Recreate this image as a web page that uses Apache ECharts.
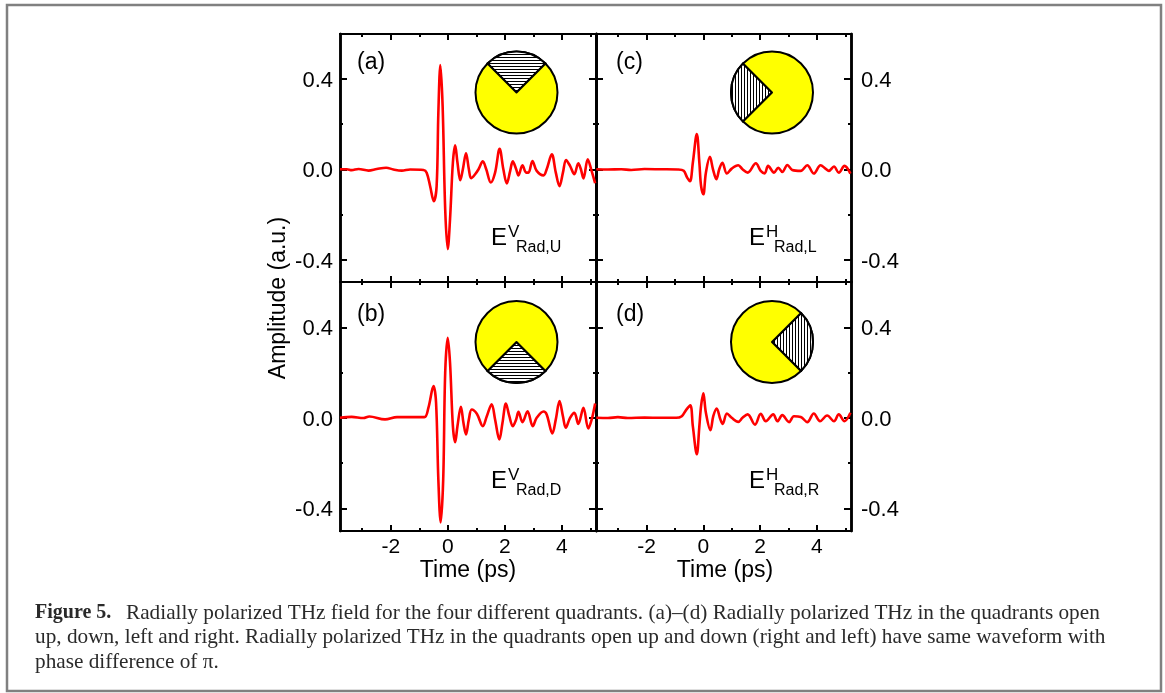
<!DOCTYPE html>
<html>
<head>
<meta charset="utf-8">
<style>html,body{margin:0;padding:0;background:#fff}#chart{width:1165px;height:693px}</style>
<script src="https://cdn.jsdelivr.net/npm/echarts@6/dist/echarts.min.js"></script>
</head>
<body>
<div id="chart"></div>
<script>
var chart = echarts.init(document.getElementById('chart'));

// tick values
var xMajor = [-2, 0, 2, 4];
var xMinor = [-3, -1, 1, 3, 5];
var yMajor = [-0.4, 0, 0.4];
var yMinor = [-0.2, 0.2];

// panel (a)
var timeA = [-3.78,-3.54,-3.37,-3.13,-2.78,-2.49,-2.16,-1.91,-1.61,-1.32,-0.85,-0.74,-0.62,-0.49,-0.39,-0.33,-0.26,-0.18,-0.09,0,0.08,0.18,0.26,0.34,0.44,0.53,0.64,0.74,0.82,0.96,1.08,1.23,1.35,1.51,1.66,1.82,1.95,2.07,2.19,2.28,2.40,2.48,2.62,2.75,2.83,2.97,3.12,3.36,3.47,3.65,3.79,3.92,4.04,4.15,4.29,4.44,4.58,4.67,4.76,4.91,5.03,5.17];
var ampA = [0,0,-0.004,0.001,-0.006,0.001,0.007,-0.001,-0.006,-0.001,-0.003,-0.015,-0.074,-0.142,-0.074,0.25,0.462,0.28,-0.177,-0.354,-0.221,0.03,0.106,0.03,-0.049,0,0.071,0,-0.04,-0.022,0,0.035,0,-0.059,-0.015,0.091,0,-0.063,-0.007,0.035,0,-0.027,0.018,-0.015,-0.015,0.037,-0.007,-0.027,0,0.066,-0.015,-0.075,-0.015,0.041,0.015,-0.022,0.027,0,-0.041,0.044,0,-0.062];

// panel (b)
var timeB = [-3.78,-3.37,-2.96,-2.75,-2.20,-1.78,-1.32,-0.82,-0.68,-0.50,-0.41,-0.33,-0.25,-0.16,-0.09,0,0.08,0.18,0.26,0.34,0.46,0.55,0.64,0.74,0.84,1.02,1.23,1.37,1.54,1.66,1.81,1.92,2.04,2.16,2.28,2.40,2.48,2.62,2.80,2.98,3.12,3.36,3.47,3.67,3.79,3.92,4.04,4.14,4.29,4.44,4.58,4.76,4.93,5.05,5.17];
var ampB = [0,0.004,-0.001,0.006,-0.007,0.003,0.003,0.003,0.044,0.14,0.066,-0.273,-0.462,-0.273,0.199,0.354,0.243,-0.037,-0.108,-0.037,0.049,-0.022,-0.074,-0.007,0.037,0.018,-0.037,0.007,0.06,-0.007,-0.096,-0.022,0.063,0.007,-0.037,-0.007,0.027,-0.019,0.029,-0.037,0,0.028,0.015,-0.069,-0.007,0.074,0.007,-0.044,0,0.022,-0.027,0.044,-0.047,-0.007,0.063];

// panel (c)
var timeC = [-3.77,-3.36,-2.89,-2.54,-2.07,-1.49,-0.90,-0.69,-0.57,-0.47,-0.37,-0.23,-0.14,-0.08,0,0.09,0.23,0.34,0.46,0.56,0.67,0.83,1.0,1.23,1.38,1.56,1.85,2.02,2.16,2.28,2.49,2.64,2.78,2.96,3.13,3.43,3.66,3.89,4.13,4.30,4.42,4.60,4.77,4.97,5.18];
var ampC = [0,-0.001,0,-0.003,0.001,0,-0.001,-0.007,-0.037,-0.053,0.029,0.156,0.029,-0.074,-0.111,-0.015,0.055,0,-0.044,0,0.029,-0.019,0.003,0.018,0,-0.015,0.027,-0.007,-0.018,0.015,-0.015,0.007,-0.012,0.019,-0.003,-0.007,0.018,-0.019,0.018,0.003,-0.007,0.012,-0.015,0.015,-0.019];

// panel (d)
var timeD = [-3.77,-3.36,-3.01,-2.66,-2.07,-1.49,-0.96,-0.76,-0.61,-0.46,-0.37,-0.23,-0.14,-0.08,0,0.09,0.25,0.35,0.47,0.60,0.68,0.83,1.0,1.23,1.38,1.56,1.82,2.02,2.20,2.46,2.61,2.78,3.02,3.19,3.43,3.66,3.89,4.11,4.36,4.60,4.77,4.97,5.18];
var ampD = [0,-0.001,0.003,-0.001,0.001,0,0,0.007,0.034,0.055,-0.037,-0.161,-0.037,0.052,0.108,0.022,-0.055,0.007,0.041,-0.007,-0.027,0.019,0,-0.018,0,0.015,-0.03,0.018,-0.015,0.015,-0.015,0.012,-0.019,0.007,0.004,-0.019,0.019,-0.015,0.01,-0.015,0.015,-0.015,0.022];

// inset pies, hatched wedge and yellow rest
var wedgeShare = [90, 270];

var panels = [
    {time: timeA, amp: ampA, left: 340, top: 34,  side: 'left',  bottom: false, tag: '(a)', e: 'V', sub: 'Rad,U', start: 135, hatchV: false},
    {time: timeB, amp: ampB, left: 340, top: 282, side: 'left',  bottom: true,  tag: '(b)', e: 'V', sub: 'Rad,D', start: 315, hatchV: false},
    {time: timeC, amp: ampC, left: 596, top: 34,  side: 'right', bottom: false, tag: '(c)', e: 'H', sub: 'Rad,L', start: 225, hatchV: true},
    {time: timeD, amp: ampD, left: 596, top: 282, side: 'right', bottom: true,  tag: '(d)', e: 'H', sub: 'Rad,R', start: 45,  hatchV: true}
];

var grids = [], xAxes = [], yAxes = [], series = [], texts = [];
var sansFont = '"Liberation Sans", Arial, sans-serif';
var serifFont = '"Liberation Serif", "Times New Roman", serif';

function zip(a, b) {
    return a.map(function (v, i) { return [v, b[i]]; });
}

panels.forEach(function (p, i) {
    grids.push({left: p.left, top: p.top, width: p.left === 340 ? 256 : 255, height: i % 2 === 0 ? 248 : 249});

    // bottom and top x axes, then the same for minor ticks
    [['bottom', xMajor, 6, p.bottom], ['top', xMajor, 6, false], ['bottom', xMinor, 3, false], ['top', xMinor, 3, false]].forEach(function (c, k) {
        xAxes.push({
            type: 'value', gridIndex: i, position: c[0], min: -3.78, max: 5.2,
            name: (k === 0 && p.bottom) ? 'Time (ps)' : '',
            nameLocation: 'middle', nameGap: 25,
            nameTextStyle: {fontFamily: sansFont, fontSize: 23, color: '#000', padding: p.side === 'left' ? 0 : [0, 0, 0, 3]},
            splitLine: {show: false},
            axisLine: {show: true, onZero: false, lineStyle: {color: '#000', width: 2}},
            axisTick: {show: true, inside: true, length: c[2], lineStyle: {color: '#000', width: 2}, customValues: c[1]},
            axisLabel: {show: c[3], fontFamily: sansFont, fontSize: 21, color: '#000', margin: 6, customValues: c[1], showMinLabel: true, showMaxLabel: true, formatter: function (v) { return String(v); }}
        });
    });

    // left and right y axes, the labelled one on the outside of the figure
    // lineHeight with top align drops the labels 2px onto their ticks
    [['left', yMajor, 7], ['right', yMajor, 7], ['left', yMinor, 3], ['right', yMinor, 3]].forEach(function (c, k) {
        yAxes.push({
            type: 'value', gridIndex: i, position: c[0], min: -0.5, max: 0.6,
            splitLine: {show: false},
            axisLine: {show: true, onZero: false, lineStyle: {color: '#000', width: 2.5}},
            axisTick: {show: true, inside: true, length: c[2], lineStyle: {color: '#000', width: 2}, customValues: c[1]},
            axisLabel: {show: k < 2 && c[0] === p.side, fontFamily: sansFont, fontSize: 22, color: '#000', margin: p.side === 'left' ? 7 : 10, verticalAlign: 'top', lineHeight: 4, customValues: c[1], formatter: function (v) { return v.toFixed(1); }}
        });
    });

    series.push({
        type: 'line', xAxisIndex: i * 4, yAxisIndex: i * 4,
        data: zip(p.time, p.amp),
        showSymbol: false, smooth: 0.35,
        lineStyle: {color: '#ff0000', width: 2.6}, z: 3, silent: true
    });

    var cx = p.left === 340 ? 516.5 : 772;
    var cy = p.top === 34 ? 92.5 : 342;
    series.push({
        type: 'pie', center: [cx, cy], radius: [0, 41], startAngle: p.start, clockwise: true,
        label: {show: false}, labelLine: {show: false}, silent: true, animation: false, z: 4,
        data: [
            {value: wedgeShare[0], itemStyle: {color: '#fff', borderColor: '#000', borderWidth: 2, decal: {
                symbol: 'rect', color: '#000', backgroundColor: '#fff',
                dashArrayX: p.hatchV ? [1, 2] : [1, 0],
                dashArrayY: p.hatchV ? [1, 0] : [1, 2],
                rotation: 0
            }}},
            {value: wedgeShare[1], itemStyle: {color: '#ffff00', borderColor: '#000', borderWidth: 2}}
        ]
    });

    // panel tag and field label
    var lx = p.left === 340 ? 357 : 616;
    var ex = p.left === 340 ? 491 : 749;
    var ey = p.top === 34 ? 250 : 493;
    var tagY = p.top === 34 ? 63 : 315;
    texts.push({type: 'text', x: lx, y: tagY, style: {text: p.tag, font: '23px ' + sansFont, fill: '#000', verticalAlign: 'middle'}});
    texts.push({type: 'text', x: ex, y: ey, style: {text: 'E', font: '24px ' + sansFont, fill: '#000', verticalAlign: 'bottom'}});
    texts.push({type: 'text', x: ex + 17, y: ey - 9, style: {text: p.e, font: '17px ' + sansFont, fill: '#000', verticalAlign: 'bottom'}});
    texts.push({type: 'text', x: ex + 25, y: ey + 6, style: {text: p.sub, font: '16px ' + sansFont, fill: '#000', verticalAlign: 'bottom'}});
});

// outer frame
texts.unshift({type: 'rect', shape: {x: 7, y: 5, width: 1154, height: 686}, style: {fill: 'none', stroke: '#808080', lineWidth: 2.5}, silent: true});

// y axis title across both left panels
texts.push({type: 'text', x: 279, y: 298, rotation: Math.PI / 2, style: {text: 'Amplitude (a.u.)', font: '23px ' + sansFont, fill: '#000', align: 'center', verticalAlign: 'middle'}});

// caption
var captionLines = [
    'Radially polarized THz field for the four different quadrants. (a)\u2013(d) Radially polarized THz in the quadrants open',
    'up, down, left and right. Radially polarized THz in the quadrants open up and down (right and left) have same waveform with',
    'phase difference of \u03c0.'
];
var captionFill = '#2a2a2a';
texts.push({type: 'text', x: 35, y: 613, style: {text: 'Figure 5.', font: 'bold 20px ' + serifFont, fill: captionFill, verticalAlign: 'middle'}});
texts.push({type: 'text', x: 126, y: 613, style: {text: captionLines[0], font: '21.25px ' + serifFont, fill: captionFill, verticalAlign: 'middle'}});
texts.push({type: 'text', x: 35, y: 637, style: {text: captionLines[1], font: '21.25px ' + serifFont, fill: captionFill, verticalAlign: 'middle'}});
texts.push({type: 'text', x: 35, y: 662, style: {text: captionLines[2], font: '21.25px ' + serifFont, fill: captionFill, verticalAlign: 'middle'}});

var option = {
    backgroundColor: '#fff',
    animation: false,
    grid: grids,
    xAxis: xAxes,
    yAxis: yAxes,
    series: series,
    graphic: {elements: texts}
};

chart.setOption(option);
</script>
</body>
</html>
